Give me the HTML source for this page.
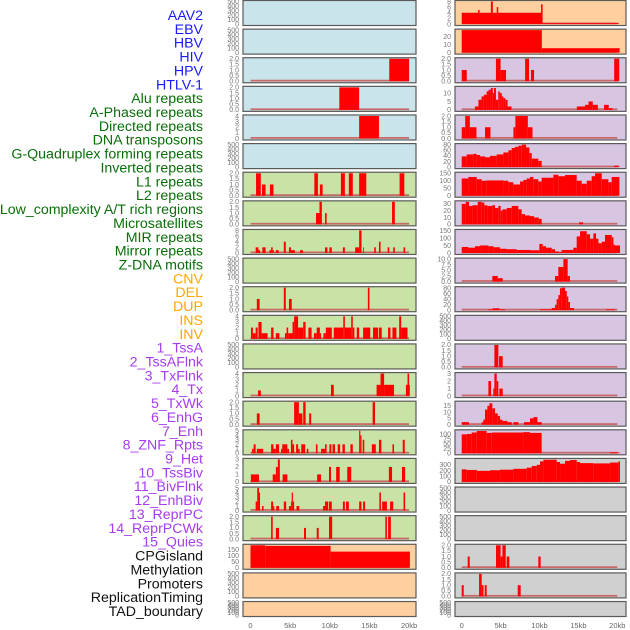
<!DOCTYPE html>
<html><head><meta charset="utf-8">
<style>
html,body{margin:0;padding:0;background:#fff;width:630px;height:630px;overflow:hidden}
svg{display:block;font-family:"Liberation Sans",sans-serif}
</style></head>
<body>
<svg id="chart" width="630" height="630" viewBox="0 0 630 630" xmlns="http://www.w3.org/2000/svg">
<g id="labels"></g>
<g id="panels"></g>
<g id="xaxis"></g>
</svg>
<script>
// ---- track labels ----
const labelNames = ["AAV2","EBV","HBV","HIV","HPV","HTLV-1","Alu repeats","A-Phased repeats","Directed repeats","DNA transposons","G-Quadruplex forming repeats","Inverted repeats","L1 repeats","L2 repeats","Low_complexity A/T rich regions","Microsatellites","MIR repeats","Mirror repeats","Z-DNA motifs","CNV","DEL","DUP","INS","INV","1_TssA","2_TssAFlnk","3_TxFlnk","4_Tx","5_TxWk","6_EnhG","7_Enh","8_ZNF_Rpts","9_Het","10_TssBiv","11_BivFlnk","12_EnhBiv","13_ReprPC","14_ReprPCWk","15_Quies","CPGisland","Methylation","Promoters","ReplicationTiming","TAD_boundary"];
const labelGroups = ["b","b","b","b","b","b","g","g","g","g","g","g","g","g","g","g","g","g","g","o","o","o","o","o","p","p","p","p","p","p","p","p","p","p","p","p","p","p","p","k","k","k","k","k"];
const groupColors = {b:"#1a1aff",g:"#0a6e0a",o:"#ffa500",p:"#a63cf0",k:"#111"};

// ---- x axis ----
const xTickKb = [0,5,10,15,20];
const xTickLabels = ["0","5kb","10kb","15kb","20kb"];

// ---- panel config: background, y max, tick values, tick labels ----
const leftBg = ["b","b","b","b","b","b","g","g","g","g","g","g","g","g","g","g","g","g","g","o","o","o"];
const rightBg = ["o","o","p","p","p","p","p","p","p","p","p","p","p","p","p","p","s","s","s","s","s","s"];
const leftYMax = [500,500,2,2,4,500,2,2,8,500,2,4,500,4,2,5,3,5,2,185,500,500];
const rightYMax = [8,28,2,13.4,2,80,150,33,150,10,82,500,2,3,17.9,119,395,500,500,2,2,500];
const leftTicks = [
 ["0","100","200","300","400","500"],["0","100","200","300","400","500"],
 ["0.0","0.5","1.0","1.5","2.0"],["0.0","0.5","1.0","1.5","2.0"],["0","1","2","3","4"],
 ["0","100","200","300","400","500"],["0.0","0.5","1.0","1.5","2.0"],["0.0","0.5","1.0","1.5","2.0"],
 ["0","2","4","6","8"],["0","100","200","300","400","500"],["0.0","0.5","1.0","1.5","2.0"],
 ["0","1","2","3","4"],["0","100","200","300","400","500"],["0","1","2","3","4"],
 ["0.0","0.5","1.0","1.5","2.0"],["0","1","2","3","4","5"],["0","1","2","3"],["0","1","2","3","4","5"],
 ["0.0","0.5","1.0","1.5","2.0"],["0","50","100","150"],["0","100","200","300","400","500"],["0","100","200","300","400","500"]];
const rightTicks = [
 ["0","2","4","6","8"],["0","10","20"],["0.0","0.5","1.0","1.5","2.0"],["0","5","10"],
 ["0.0","0.5","1.0","1.5","2.0"],["0","20","40","60","80"],["0","50","100","150"],["0","10","20","30"],
 ["0","50","100","150"],["0.0","2.5","5.0","7.5","10.0"],["0","20","40","60","80"],
 ["0","100","200","300","400","500"],["0.0","0.5","1.0","1.5","2.0"],["0","1","2","3"],
 ["0","5","10","15"],["0","25","50","75","100"],["0","100","200","300"],
 ["0","100","200","300","400","500"],["0","100","200","300","400","500"],
 ["0.0","0.5","1.0","1.5","2.0"],["0.0","0.5","1.0","1.5","2.0"],["0","100","200","300","400","500"]];

// ---- series: [startKb, endKb, value] ----
const L2 = [[17.5,20.0,2]];
const L3 = [[11.2,13.7,2]];
const L4 = [[13.7,16.2,4]];
const L6 = [[0.7,1.3,2],[1.45,1.9,1],[2.45,2.9,1],[8.05,8.5,2],[8.75,9.1,1],[11.4,11.9,2],[12.4,12.9,2],[13.7,14.6,2],[18.8,19.4,2]];
const L7 = [[8.26,8.7,1],[8.7,9.0,2],[9.4,9.6,1],[17.85,18.2,2]];
const L8 = [[0.65,1.0,2],[1.0,1.2,1],[1.5,1.9,2],[2.4,2.6,1],[2.6,2.8,2],[2.8,2.95,1],[3.2,3.55,1],[4.2,4.45,4],[4.85,5.1,2],[5.1,5.6,1],[6.25,6.6,1],[9.4,9.7,2],[9.95,10.25,2],[11.65,11.9,2],[13.2,13.7,2],[13.7,14.0,8],[14.2,14.3,2],[15.6,15.8,2],[16.2,16.4,4],[17.3,17.5,2],[18.0,18.2,2],[19.3,19.5,2]];
const L10 = [[0.8,1.15,1],[4.2,4.45,2],[4.85,5.2,1],[14.8,15.0,2]];
const L11 = [[0.06,0.3,2],[0.3,0.65,1],[0.65,0.9,2],[1.0,1.4,3],[1.4,2.15,1],[2.6,2.9,2],[3.2,3.65,1],[4.35,4.55,1],[4.55,4.75,2],[4.75,5.3,1],[5.3,5.5,3],[5.5,6.0,4],[6.0,6.65,2],[6.65,6.95,3],[7.3,7.7,2],[8.0,8.35,1],[8.35,8.75,2],[8.75,8.9,1],[9.2,9.5,1],[9.5,10.25,2],[10.5,11.7,2],[11.7,11.9,4],[11.9,12.7,2],[12.7,12.9,4],[12.9,13.1,2],[13.4,13.7,2],[14.2,15.1,2],[15.45,16.1,2],[16.2,16.55,2],[17.35,17.65,2],[17.9,18.4,2],[18.75,19.0,4],[19.0,19.8,2]];
const L13 = [[0.95,1.3,1],[10.15,10.5,2],[15.9,16.4,2],[16.4,16.85,4],[16.85,18.1,2],[19.6,19.8,2],[19.8,20.0,4],[20.0,20.1,2]];
const L14 = [[0.8,1.15,1],[5.5,6.1,2],[6.1,6.55,1],[6.65,6.95,2],[7.4,7.65,1],[15.4,15.7,2]];
const L15 = [[0.2,0.4,1],[0.4,0.65,2],[0.8,1.6,1],[2.6,2.9,2],[2.9,3.2,1],[3.2,3.6,2],[3.85,4.0,1],[4.0,4.65,2],[4.65,4.85,1],[5.1,5.3,3],[5.3,5.5,2],[5.75,6.0,2],[6.0,6.2,1],[6.4,6.9,2],[7.1,7.3,1],[8.25,8.45,2],[8.9,9.4,1],[9.4,9.6,2],[9.95,10.2,2],[10.35,10.65,2],[11.0,11.3,2],[11.6,11.9,2],[12.6,12.9,2],[13.7,13.85,5],[13.85,14.0,4],[14.15,14.35,3],[15.3,15.8,2],[16.2,16.5,3],[17.9,18.1,2],[19.2,19.45,3]];
const L16 = [[0.05,1.07,1],[2.8,3.2,1],[3.2,3.45,2],[3.45,3.7,3],[4.05,4.65,1],[8.4,8.9,1],[9.9,10.15,2],[10.8,11.25,2],[12.2,12.7,2],[17.45,17.85,2],[19.1,19.5,2]];
const L17 = [[0.65,0.85,2],[0.85,1.07,5],[1.07,1.2,4],[1.45,1.65,1],[2.6,2.85,2],[2.85,3.0,1],[3.25,3.6,1],[4.2,4.5,2],[4.85,5.1,1],[5.1,5.2,2],[5.2,5.35,4],[5.35,5.5,2],[5.8,6.15,1],[9.15,9.4,1],[9.4,9.8,2],[9.9,10.25,2],[11.65,11.9,2],[12.05,12.4,2],[13.7,14.0,2],[14.2,14.45,2],[16.25,16.45,4],[16.6,17.2,2],[17.6,18.0,2],[19.3,19.5,4]];
const L18 = [[2.6,2.8,2],[3.2,3.6,1],[6.75,7.0,1],[8.35,8.6,1],[9.9,10.3,2],[17.0,17.2,2],[17.35,17.7,2]];
const L19 = [[0.0,1.85,185],[1.85,10.1,180],[10.1,20.1,133]];
const R0 = [[0.0,10.3,4],[2.1,2.3,5],[3.75,4.0,8],[4.5,4.7,6],[10.2,10.4,7],[10.4,20.2,0.3]];
const R1 = [[0.0,10.3,28],[10.3,20.3,5.5]];
const R2 = [[0.0,0.65,1],[4.4,5.0,2],[5.0,5.7,1],[8.15,8.65,2],[8.9,9.3,1],[19.6,20.25,2]];
const R3 = [[1.7,2.15,2],[2.15,2.55,6],[2.55,2.85,8],[2.85,3.2,9],[3.2,3.45,11],[3.45,3.75,12],[3.75,4.0,13],[4.0,4.15,10],[4.15,4.4,13],[4.4,4.7,6],[4.7,4.9,11],[4.9,5.15,10],[5.15,5.35,8],[5.35,5.6,7],[5.6,5.9,6],[5.9,6.4,2],[14.8,15.85,2],[15.85,16.3,3],[16.3,16.85,5],[16.85,17.5,3],[18.3,18.9,3],[18.9,19.4,1]];
const R4 = [[0.0,0.45,1],[0.45,1.05,2],[1.05,1.9,1],[3.0,3.7,1],[6.65,6.9,1],[6.9,8.5,2],[8.5,9.1,1]];
const R5 = [[0.0,0.64,38],[0.64,1.5,45],[1.5,1.93,47],[1.93,2.36,43],[2.36,3.0,38],[3.0,3.64,35],[3.64,4.5,40],[4.5,5.36,45],[5.36,6.0,52],[6.0,6.43,60],[6.43,6.86,68],[6.86,7.28,72],[7.28,7.71,76],[7.71,8.27,80],[8.27,8.7,70],[8.7,9.0,50],[9.0,9.85,30],[9.85,10.28,22],[19.6,20.25,5]];
const R6 = [[0.0,0.86,115],[0.86,1.93,125],[1.93,2.57,110],[2.57,3.21,100],[3.21,5.36,102],[5.36,6.0,100],[6.0,6.64,90],[6.64,7.5,75],[7.5,7.93,95],[7.93,8.35,105],[8.35,8.78,115],[8.78,9.21,125],[9.21,9.85,110],[9.85,10.28,95],[10.28,11.78,120],[11.78,12.42,140],[12.42,13.28,130],[13.28,14.78,138],[14.78,15.42,100],[15.42,16.07,80],[16.07,16.71,100],[16.71,17.14,130],[17.14,18.0,150],[18.0,18.85,110],[18.85,19.28,90],[19.28,20.27,125]];
const R7 = [[0.0,0.51,30],[0.51,0.94,33],[0.94,1.37,27],[1.37,2.06,28],[2.06,2.57,33],[2.57,2.91,32],[2.91,3.3,28],[3.3,3.94,27],[3.94,4.28,28],[4.28,4.71,24],[4.71,5.01,27],[5.01,5.23,20],[5.23,5.78,22],[5.78,6.43,24],[6.43,7.28,27],[7.28,7.71,22],[7.71,8.14,15],[8.14,8.78,13],[8.78,9.3,12],[9.3,9.9,10],[9.9,10.28,8],[15.1,15.6,3]];
const R8 = [[0.0,0.86,40],[0.86,1.71,35],[1.71,2.36,45],[2.36,3.43,50],[3.43,4.07,45],[4.07,4.93,38],[4.93,5.78,28],[5.78,7.07,25],[7.07,8.78,20],[8.78,9.98,18],[9.98,10.41,60],[10.41,10.84,45],[10.84,11.57,35],[11.57,12.0,25],[12.0,12.42,10],[12.42,12.85,5],[12.85,14.35,20],[14.35,14.78,35],[14.78,15.21,110],[15.21,16.07,145],[16.07,16.5,125],[16.5,16.92,95],[16.92,17.27,130],[17.27,17.57,95],[17.57,18.0,65],[18.0,18.42,75],[18.42,19.28,120],[19.28,19.5,105],[19.5,19.7,55],[19.7,20.35,50]];
const R9 = [[3.94,4.63,2.5],[4.63,5.27,1.5],[12.0,12.42,2.5],[12.42,13.07,6.5],[13.07,13.62,10],[13.62,13.92,2.5]];
const R10 = [[3.43,3.98,3],[3.98,4.84,7],[4.84,5.57,3],[10.07,11.57,3],[11.57,12.0,8],[12.0,12.2,20],[12.2,12.42,40],[12.42,12.63,55],[12.63,12.85,80],[12.85,13.28,82],[13.28,13.5,70],[13.5,13.7,50],[13.7,13.92,30],[13.92,14.44,8],[18.55,19.7,3]];
const R12 = [[4.2,4.71,2],[4.8,5.27,1]];
const R13 = [[3.43,3.77,2],[4.06,4.2,1],[4.2,4.5,3],[4.5,4.71,2],[4.84,5.27,1]];
const R14 = [[0.0,0.94,2],[2.57,2.78,2],[2.78,3.0,4],[3.0,3.3,12],[3.3,3.56,15],[3.56,3.94,17],[3.94,4.28,13],[4.28,4.63,9],[4.63,4.93,7],[4.93,5.23,4],[5.23,5.87,3],[5.87,6.43,2],[6.64,7.28,2],[8.0,8.78,2],[8.78,9.21,5],[9.21,9.73,6],[9.73,10.28,2]];
const R15 = [[0.0,0.64,100],[0.64,1.28,102],[1.28,1.93,110],[1.93,3.21,118],[3.21,3.86,108],[3.86,7.93,110],[7.93,8.78,112],[8.78,10.28,108],[19.07,20.27,5]];
const R16 = [[0.0,0.64,220],[0.64,1.93,210],[1.93,3.64,195],[3.64,4.93,205],[4.93,6.64,215],[6.64,8.35,230],[8.35,9.0,250],[9.0,9.64,280],[9.64,10.07,300],[10.07,10.5,360],[10.5,12.21,390],[12.21,12.64,350],[12.64,13.28,320],[13.28,13.92,370],[13.92,14.78,385],[14.78,15.21,350],[15.21,16.92,330],[16.92,19.07,325],[19.07,20.14,340],[20.14,20.35,360]];
const R19 = [[0.77,1.03,1],[4.41,5.0,2],[5.0,5.23,1],[5.23,5.66,2],[5.78,6.13,1],[9.85,10.15,1]];
const R20 = [[0.0,0.26,1],[2.23,2.57,2],[2.57,2.8,1],[2.96,3.21,1],[7.2,7.58,1]];

const leftSeries = [null,null,L2,L3,L4,null,L6,L7,L8,null,L10,L11,null,L13,L14,L15,L16,L17,L18,L19,null,null];
const rightSeries = [R0,R1,R2,R3,R4,R5,R6,R7,R8,R9,R10,null,R12,R13,R14,R15,R16,null,null,R19,R20,null];

const NS = "http://www.w3.org/2000/svg";
const bgColors = {b:"#c9e4eb",g:"#c9e2a6",o:"#ffd09f",p:"#d7c5e2",s:"#d0d0d0"};
function mk(tag, attrs, parent){ const e=document.createElementNS(NS,tag); for(const k in attrs) e.setAttribute(k,attrs[k]); parent.appendChild(e); return e; }

// axis scale functions
function xLeft(kb){ return 250.5 + kb*7.93; }
function xRight(kb){ return 461.7 + kb*7.78; }
function rowTop(i){ return i*28.62 + 0.5; }
function rowHeight(i){ return i===21 ? 15 : 25; }

// labels
const lg = document.getElementById("labels");
labelNames.forEach((name,i)=>{
  const t = mk("text",{x:203,y:15+i*13.86+5,"text-anchor":"end","font-size":"14.2",fill:groupColors[labelGroups[i]]},lg);
  
  
  t.textContent = name;
});

const pg = document.getElementById("panels");
function drawPanel(i, side){
  const isL = side==="left";
  const px = isL?243:455, pw = isL?173:171;
  const top = rowTop(i), h = rowHeight(i);
  const bgKey = isL?leftBg[i]:rightBg[i];
  const yMax = isL?leftYMax[i]:rightYMax[i];
  const ticks = isL?leftTicks[i]:rightTicks[i];
  const series = isL?leftSeries[i]:rightSeries[i];
  const xs = isL?xLeft:xRight;
  const y0 = top + h - 1.5, y1 = top + 1;
  const yScale = v => y0 - (v/yMax)*(y0-y1);
  const g = mk("g",{},pg);
  
  
  const r = mk("rect",{x:px,y:top,width:pw,height:h,fill:bgColors[bgKey],stroke:"#5a5a5a","stroke-width":1.2},g);
  
  
  // y ticks
  ticks.forEach(lbl=>{
    const v = parseFloat(lbl);
    const tt = mk("text",{x:px-4,y:yScale(v)+2.3,"text-anchor":"end","font-size":"7",fill:"#777"},g);
    
    
    tt.textContent = lbl;
  });
  if(series){
    const bl = mk("rect",{x:xs(0),y:y0-1.5,width:xs(20)-xs(0),height:1.8,fill:"#c86a6a"},g);
    
    
    series.forEach(s=>{
      const x1 = xs(s[0]), x2 = xs(s[1]), yt = yScale(s[2]);
      const b = mk("rect",{x:x1,y:yt,width:Math.max(0.8,x2-x1),height:Math.max(0,y0-yt),fill:"#ff0000"},g);
      
      
    });
  }
}
for(let i=0;i<22;i++){ drawPanel(i,"left"); drawPanel(i,"right"); }

// x axes
const xg = document.getElementById("xaxis");
[["left",xLeft],["right",xRight]].forEach(([side,xs])=>{
  xTickKb.forEach((kb,j)=>{
    const t = mk("text",{x:xs(kb),y:628,"text-anchor":"middle","font-size":"7.5",fill:"#666"},xg);
    
    
    t.textContent = xTickLabels[j];
  });
});
</script>
</body></html>
